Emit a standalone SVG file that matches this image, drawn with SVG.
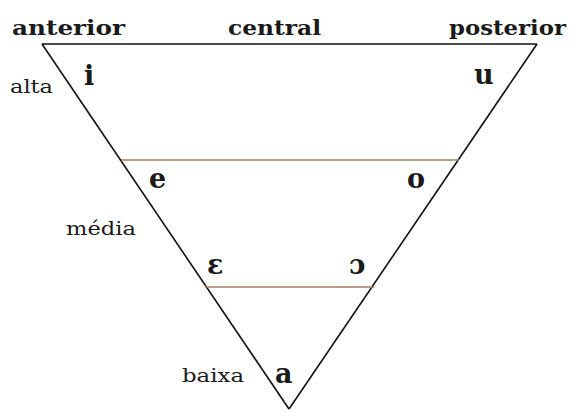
<svg xmlns="http://www.w3.org/2000/svg" width="576" height="412" viewBox="0 0 576 412">
<style>
.h{font-family:"DejaVu Serif","Liberation Serif",serif;font-weight:bold;font-size:20px;fill:#1a1a1a}
.v{font-family:"DejaVu Serif","Liberation Serif",serif;font-weight:bold;font-size:27px;fill:#1a1a1a}
.l{font-family:"DejaVu Serif","Liberation Serif",serif;font-size:19px;fill:#1a1a1a}
.edge{stroke:#111;stroke-width:1.6;fill:none}
.lvl{stroke:#a67c5b;stroke-width:1.6;fill:none}
</style>
<rect width="576" height="412" fill="#fff"/>
<g id="connectors">
<line class="edge" x1="42" y1="44" x2="537" y2="44"/>
<line class="edge" x1="42" y1="44" x2="289" y2="409"/>
<line class="edge" x1="537" y1="44" x2="289" y2="409"/>
<line class="lvl" x1="121" y1="160" x2="459" y2="160"/>
<line class="lvl" x1="205" y1="287" x2="374" y2="287"/>
</g>
<g id="anterior"><text class="h" x="12" y="35" textLength="113" lengthAdjust="spacingAndGlyphs">anterior</text></g>
<g id="central"><text class="h" x="228" y="35" textLength="93" lengthAdjust="spacingAndGlyphs">central</text></g>
<g id="posterior"><text class="h" x="449" y="35" textLength="117" lengthAdjust="spacingAndGlyphs">posterior</text></g>
<g id="alta"><text class="l" x="10" y="93" textLength="43" lengthAdjust="spacingAndGlyphs">alta</text></g>
<g id="media"><text class="l" x="66" y="235" textLength="70" lengthAdjust="spacingAndGlyphs">média</text></g>
<g id="baixa"><text class="l" x="182" y="382" textLength="62" lengthAdjust="spacingAndGlyphs">baixa</text></g>
<g id="v-i"><text class="v" x="84" y="85">i</text></g>
<g id="v-u"><text class="v" x="474" y="84">u</text></g>
<g id="v-e"><text class="v" x="149" y="188">e</text></g>
<g id="v-o"><text class="v" x="407" y="188">o</text></g>
<g id="v-eps"><text class="v" x="207" y="274">ɛ</text></g>
<g id="v-oo"><text class="v" x="349" y="274">ɔ</text></g>
<g id="v-a"><text class="v" x="275" y="383">a</text></g>
</svg>
